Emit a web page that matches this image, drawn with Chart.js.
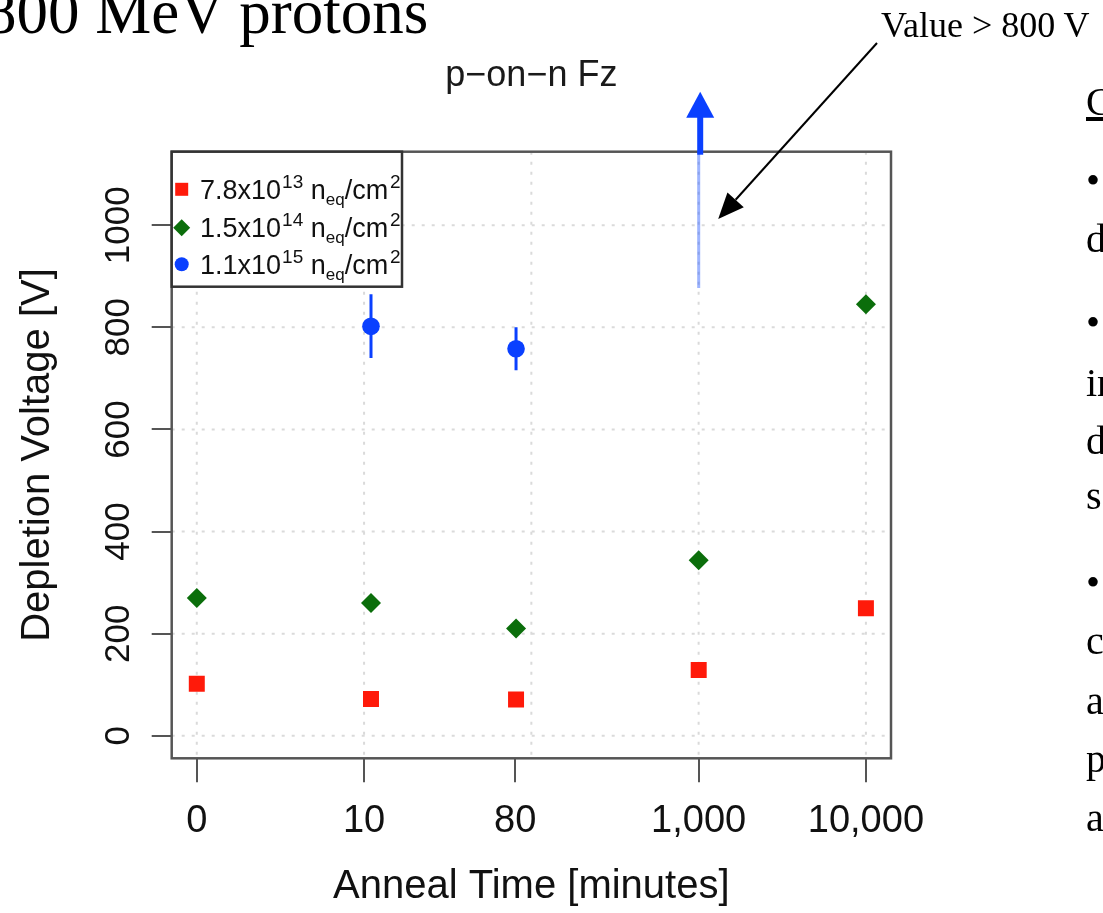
<!DOCTYPE html>
<html><head><meta charset="utf-8">
<script src="https://cdn.jsdelivr.net/npm/chart.js@4.4.1/dist/chart.umd.min.js"></script>
<style>
html,body{margin:0;padding:0;background:#fff;overflow:hidden;width:1103px;height:913px;position:relative}
#c{position:absolute;left:0;top:0}
.slide{position:absolute;font-family:"Liberation Serif","Times New Roman",serif;color:#000;white-space:nowrap;line-height:1}
</style></head><body>
<canvas id="c" width="1103" height="913"></canvas>
<div class="slide" style="left:-15px;top:-19px;font-size:63px">800 MeV protons</div>
<div class="slide" style="left:881px;top:6.5px;font-size:36px">Value &gt; 800 V</div>
<div class="slide" style="left:1086px;top:82px;font-size:40px;text-decoration:underline">C</div>
<div class="slide" style="left:1086px;top:161px;font-size:40px">•</div>
<div class="slide" style="left:1086px;top:219px;font-size:40px">d</div>
<div class="slide" style="left:1086px;top:303px;font-size:40px">•</div>
<div class="slide" style="left:1086px;top:363px;font-size:40px">in</div>
<div class="slide" style="left:1086px;top:421px;font-size:40px">d</div>
<div class="slide" style="left:1086px;top:476px;font-size:40px">s</div>
<div class="slide" style="left:1086px;top:563px;font-size:40px">•</div>
<div class="slide" style="left:1086px;top:621px;font-size:40px">c</div>
<div class="slide" style="left:1086px;top:681px;font-size:40px">a</div>
<div class="slide" style="left:1086px;top:739px;font-size:40px">p</div>
<div class="slide" style="left:1086px;top:798px;font-size:40px">a</div>
<script>
// ---- data ----
const annealMinutes = [0, 10, 80, 1000, 10000];
const tickLabels = ['0', '10', '80', '1,000', '10,000'];
const yTickValues = [0, 200, 400, 600, 800, 1000];
const gridDecades = [0, 1, 2, 3, 4];
const redValues = [102, 72, 71, 129, 250];
const greenValues = [270, 260, 210, 344, 845];
const blueValues = [null, 802, 758, null, null];
const blueErrLow = [null, 740, 716, 877, null];
const blueErrHigh = [null, 865, 800, null, null];
const blueOffScale = [false, false, false, true, false];
const legendBase = ['7.8x10', '1.5x10', '1.1x10'];
const legendExp = ['13', '14', '15'];
const chartTitle = 'p\u2212on\u2212n Fz';

const RED = '#ff1a0a', GREEN = '#0b6e0b', BLUE = '#0a40ff';
const SANS = '"Liberation Sans", Arial, Helvetica, sans-serif';

const xPos = t => Math.log10(t + 1);
const tickPos = annealMinutes.map(t => t === 0 ? 0 : Math.log10(t));
const toPts = vals => annealMinutes.map((t, i) => vals[i] == null ? null : ({x: xPos(t), y: vals[i]})).filter(p => p);

const decor = {
  id: 'decor',
  beforeDatasetsDraw(chart) {
    const {ctx, chartArea: a, scales: {x, y}} = chart;
    ctx.save();
    ctx.beginPath(); ctx.rect(a.left, a.top, a.right - a.left, a.bottom - a.top); ctx.clip();
    ctx.strokeStyle = '#dadada'; ctx.lineWidth = 2; ctx.setLineDash([3, 7]);
    gridDecades.forEach(d => { const px = x.getPixelForValue(d); ctx.beginPath(); ctx.moveTo(px, a.top); ctx.lineTo(px, a.bottom); ctx.stroke(); });
    yTickValues.forEach(v => { const py = y.getPixelForValue(v); ctx.beginPath(); ctx.moveTo(a.left, py); ctx.lineTo(a.right, py); ctx.stroke(); });
    ctx.setLineDash([]);
    // error bars
    annealMinutes.forEach((t, i) => {
      if (blueErrLow[i] == null) return;
      const px = x.getPixelForValue(xPos(t));
      const y1 = y.getPixelForValue(blueErrLow[i]);
      const y2 = blueErrHigh[i] == null ? a.top : y.getPixelForValue(blueErrHigh[i]);
      ctx.strokeStyle = blueOffScale[i] ? 'rgba(40,90,255,0.45)' : BLUE;
      ctx.lineWidth = 3;
      ctx.beginPath(); ctx.moveTo(px, y1); ctx.lineTo(px, y2); ctx.stroke();
    });
    ctx.restore();
  },
  afterDraw(chart) {
    const {ctx, chartArea: a, scales: {x, y}} = chart;
    ctx.save();
    // frame
    ctx.strokeStyle = '#555'; ctx.lineWidth = 2.5;
    ctx.strokeRect(a.left, a.top, a.right - a.left, a.bottom - a.top);
    // y tick labels (vertical, R style)
    ctx.fillStyle = '#111'; ctx.font = '35px ' + SANS; ctx.textAlign = 'center'; ctx.textBaseline = 'middle';
    yTickValues.forEach(v => {
      ctx.save(); ctx.translate(119, y.getPixelForValue(v)); ctx.rotate(-Math.PI / 2); ctx.fillText(String(v), 0, 0); ctx.restore();
    });
    // off-scale arrow
    annealMinutes.forEach((t, i) => {
      if (!blueOffScale[i]) return;
      const px = x.getPixelForValue(xPos(t)) + 1.5;
      ctx.strokeStyle = BLUE; ctx.fillStyle = BLUE; ctx.lineWidth = 6;
      ctx.beginPath(); ctx.moveTo(px, a.top + 3); ctx.lineTo(px, a.top - 36); ctx.stroke();
      ctx.beginPath(); ctx.moveTo(px - 14, a.top - 34); ctx.lineTo(px + 14, a.top - 34); ctx.lineTo(px, a.top - 60); ctx.closePath(); ctx.fill();
      // annotation arrow
      const tx = x.getPixelForValue(3.117), ty = y.getPixelForValue(1012);
      const sx = 877, sy = 43;
      const ang = Math.atan2(ty - sy, tx - sx);
      ctx.strokeStyle = '#000'; ctx.fillStyle = '#000'; ctx.lineWidth = 2;
      const hl = 26, hw = 11;
      const bx = tx - hl * Math.cos(ang), by = ty - hl * Math.sin(ang);
      ctx.beginPath(); ctx.moveTo(sx, sy); ctx.lineTo(bx, by); ctx.stroke();
      ctx.beginPath(); ctx.moveTo(tx, ty);
      ctx.lineTo(bx + hw * Math.sin(ang), by - hw * Math.cos(ang));
      ctx.lineTo(bx - hw * Math.sin(ang), by + hw * Math.cos(ang));
      ctx.closePath(); ctx.fill();
    });
    // legend
    const L = a.left, T = a.top, W = 230.3, H = 135;
    ctx.fillStyle = '#fff'; ctx.fillRect(L, T, W, H);
    ctx.strokeStyle = '#333'; ctx.lineWidth = 2.5; ctx.strokeRect(L, T, W, H);
    const rows = [37.6, 76, 112.6];
    const colors = [RED, GREEN, BLUE];
    rows.forEach((ry, i) => {
      const cy = T + ry, mx = L + 10;
      ctx.fillStyle = colors[i];
      ctx.beginPath();
      if (i === 0) ctx.rect(mx - 6.5, cy - 6.5, 13, 13);
      else if (i === 1) { ctx.moveTo(mx - 8.5, cy); ctx.lineTo(mx, cy - 8.5); ctx.lineTo(mx + 8.5, cy); ctx.lineTo(mx, cy + 8.5); ctx.closePath(); }
      else ctx.arc(mx, cy, 7, 0, Math.PI * 2);
      ctx.fill();
      ctx.fillStyle = '#111'; ctx.textAlign = 'left'; ctx.textBaseline = 'alphabetic';
      const base = cy + 9.5;
      let cx = L + 28.3;
      ctx.font = '27px ' + SANS; ctx.fillText(legendBase[i], cx, base); cx += ctx.measureText(legendBase[i]).width + 1;
      ctx.font = '19px ' + SANS; ctx.fillText(legendExp[i], cx, base - 11); cx += ctx.measureText(legendExp[i]).width;
      ctx.font = '27px ' + SANS; cx += ctx.measureText(' ').width; ctx.fillText('n', cx, base); cx += ctx.measureText('n').width;
      ctx.font = '17px ' + SANS; ctx.fillText('eq', cx, base + 6); cx += ctx.measureText('eq').width;
      ctx.font = '27px ' + SANS; ctx.fillText('/cm', cx, base); cx += ctx.measureText('/cm').width + 2;
      ctx.font = '19px ' + SANS; ctx.fillText('2', cx, base - 11);
    });
    ctx.restore();
  }
};

new Chart(document.getElementById('c'), {
  type: 'scatter',
  data: {
    datasets: [
      {label: '7.8x10^13', data: toPts(redValues), pointStyle: 'rect', pointRadius: 11.3, backgroundColor: RED, borderColor: RED, borderWidth: 0},
      {label: '1.5x10^14', data: toPts(greenValues), pointStyle: 'rectRot', pointRadius: 10, backgroundColor: GREEN, borderColor: GREEN, borderWidth: 0},
      {label: '1.1x10^15', data: toPts(blueValues), pointStyle: 'circle', pointRadius: 8.8, backgroundColor: BLUE, borderColor: BLUE, borderWidth: 0}
    ]
  },
  options: {
    responsive: false, animation: false, devicePixelRatio: 1,
    layout: {padding: {left: 0, right: 212, top: 0, bottom: 0}},
    plugins: {
      legend: {display: false}, tooltip: {enabled: false},
      title: {display: true, text: chartTitle, fullSize: false, color: '#1a1a1a',
        font: {family: SANS, size: 36, weight: 'normal'}, padding: {top: 54, bottom: 54.5}}
    },
    scales: {
      x: {
        type: 'linear', min: -0.15, max: 4.15,
        afterBuildTicks: s => { s.ticks = tickPos.map(v => ({value: v})); },
        afterFit: s => { s.height = 154.7; },
        grid: {drawOnChartArea: false, drawTicks: true, tickLength: 24, color: '#555', lineWidth: 2},
        border: {display: false},
        ticks: {font: {family: SANS, size: 38}, color: '#111', padding: 16, maxRotation: 0, minRotation: 0, autoSkip: false,
          callback: (v, i) => tickLabels[i]},
        title: {display: true, text: 'Anneal Time [minutes]', color: '#111', font: {family: SANS, size: 40}, padding: {top: 0, bottom: 2}}
      },
      y: {
        type: 'linear', min: -44, max: 1144,
        afterBuildTicks: s => { s.ticks = yTickValues.map(v => ({value: v})); },
        afterFit: s => { s.width = 171.7; },
        grid: {drawOnChartArea: false, drawTicks: true, tickLength: 20, color: '#555', lineWidth: 2},
        border: {display: false},
        ticks: {display: false},
        title: {display: true, text: 'Depletion Voltage [V]', color: '#111', font: {family: SANS, size: 40}, padding: {top: 14, bottom: 0}}
      }
    }
  },
  plugins: [decor]
});
</script>
</body></html>
